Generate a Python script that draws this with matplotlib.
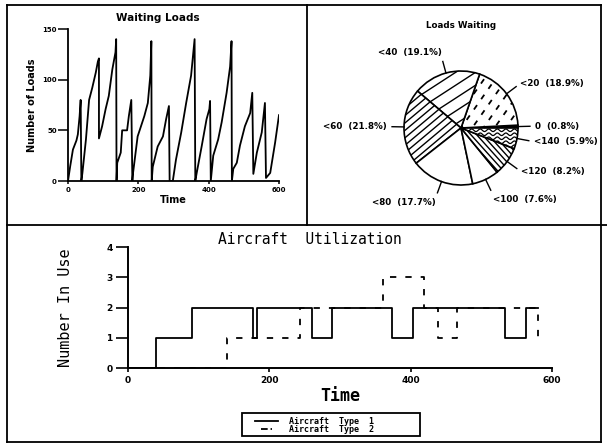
import numpy as np
import matplotlib
matplotlib.use('Agg')
import matplotlib.pyplot as plt
from matplotlib.lines import Line2D
from matplotlib.patches import Rectangle
from matplotlib.collections import LineCollection

W, H = 607, 446

# waiting loads over time
wait_t = [0, 6, 14, 24, 28, 33, 36, 38,
          41, 51, 60, 69, 79, 85, 88, 88,
          97, 107, 116, 126, 135, 137, 138,
          140, 150, 154, 168, 173, 180, 183,
          185, 198, 217, 227, 234, 237, 238,
          241, 255, 270, 279, 287, 289,
          298, 307, 322, 336, 350, 360, 362,
          366, 380, 394, 402, 404, 406,
          413, 427, 437, 451, 461, 465, 466,
          470, 480, 489, 503, 518, 524, 527,
          537, 551, 560, 563,
          575, 589, 600]
wait_n = [0, 14, 31, 40, 46, 64, 80, 0,
          8, 41, 80, 92, 107, 118, 121, 42,
          54, 71, 84, 110, 127, 140, 0,
          18, 28, 50, 50, 64, 80, 0,
          8, 44, 64, 77, 104, 138, 0,
          14, 34, 44, 61, 74, 0,
          0, 21, 48, 77, 104, 140, 0,
          8, 34, 61, 71, 79, 0,
          25, 41, 58, 87, 113, 138, 0,
          12, 18, 35, 54, 67, 87, 7,
          28, 48, 77, 3,
          8, 38, 65]

# pie: loads waiting
pie_cats = ['0', '<20', '<40', '<60', '<80', '<100', '<120', '<140']
pie_pct = [0.8, 18.9, 19.1, 21.8, 17.7, 7.6, 8.2, 5.9]

# aircraft utilization (step changes)
type1_t = [0, 40, 90, 177, 183, 260, 289, 374, 403, 534, 563, 580]
type1_n = [0, 1, 2, 1, 2, 1, 2, 1, 2, 1, 2, 2]
type2_t = [0, 140, 243, 361, 419, 438, 466, 580, 582]
type2_n = [0, 1, 2, 3, 2, 1, 2, 1, 1]
legend_labels = ['Aircraft  Type  1', 'Aircraft  Type  2']


def fx(px):
    return px / W


def fy(py):
    return 1 - py / H


def rect(l, t, r, b):
    return [fx(l), fy(b), fx(r) - fx(l), fy(t) - fy(b)]


plt.rcParams['font.family'] = 'DejaVu Sans'
MONO = 'DejaVu Sans Mono'
fig = plt.figure(figsize=(W / 100, H / 100), dpi=100)

# panel frames
frame = [((7, 5), (601, 5)), ((7, 442), (601, 442)), ((7, 5), (7, 442)),
         ((601, 5), (601, 442)), ((7, 225), (607, 225)), ((307, 5), (307, 225))]
for (x0, y0), (x1, y1) in frame:
    fig.add_artist(Line2D([fx(x0), fx(x1)], [fy(y0), fy(y1)], color='black', lw=1.3))

# ---- waiting loads ----
ax1 = fig.add_axes(rect(68, 29, 279, 181))
ax1.plot(wait_t, wait_n, color='black', lw=1.3)
ax1.set_xlim(0, 600)
ax1.set_ylim(0, 150)
ax1.set_xticks([0, 200, 400, 600])
ax1.set_yticks([0, 50, 100, 150])
for s in ['top', 'right']:
    ax1.spines[s].set_visible(False)
for s in ['left', 'bottom']:
    ax1.spines[s].set_linewidth(1.3)
ax1.tick_params(axis='y', length=7, width=1.1, labelsize=5, pad=1)
ax1.tick_params(axis='x', length=2, width=1.1, labelsize=5, pad=2)
for lab in ax1.get_xticklabels() + ax1.get_yticklabels():
    lab.set_fontweight('bold')
ax1.set_xlabel('Time', fontsize=7, fontweight='bold', labelpad=2)
ax1.set_ylabel('Number of Loads', fontsize=7, fontweight='bold', labelpad=4)
fig.text(fx(158), fy(18), 'Waiting Loads', fontsize=7.5, fontweight='bold',
         ha='center', va='center')

# ---- pie ----
R = 57
cx, cy = 461, 128
axp = fig.add_axes(rect(308, 6, 600, 224))
wedges, _ = axp.pie(pie_pct, startangle=0, counterclock=True, colors=['white'] * 8,
                    wedgeprops=dict(edgecolor='black', linewidth=1.2))
wedges[0].set_facecolor('black')
axp.set_xlim(-(cx - 308) / R, (600 - cx) / R)
axp.set_ylim(-(224 - cy) / R, (cy - 6) / R)
axp.set_aspect('auto')
axp.axis('off')


def hatch(wedge, angle, spacing, **kw):
    a = np.deg2rad(angle)
    d = np.array([np.cos(a), np.sin(a)])
    n = np.array([-np.sin(a), np.cos(a)])
    segs = []
    for k in np.arange(-1.6, 1.6, spacing):
        c = n * k
        segs.append([c - 1.6 * d, c + 1.6 * d])
    lc = LineCollection(segs, colors='black', **kw)
    axp.add_collection(lc)
    lc.set_clip_path(wedge)


hatch(wedges[1], 55, 0.16, linewidths=1.3, linestyles=[(0, (3, 4))])
hatch(wedges[2], 33, 0.19, linewidths=1.0)
hatch(wedges[3], 40, 0.10, linewidths=1.0)
hatch(wedges[6], -48, 0.075, linewidths=1.0)
xs = np.linspace(0, 1.1, 300)
waves = [np.column_stack([xs, y0 + 0.022 * np.sin(2 * np.pi * xs / 0.15)])
         for y0 in np.arange(-0.6, 0.05, 0.07)]
lcw = LineCollection(waves, colors='black', linewidths=0.9)
axp.add_collection(lcw)
lcw.set_clip_path(wedges[7])

cum = np.cumsum([0] + pie_pct)
for i, (cat, p) in enumerate(zip(pie_cats, pie_pct)):
    mid = np.deg2rad((cum[i] + p / 2) * 3.6)
    c, s = np.cos(mid), np.sin(mid)
    axp.plot([c, 1.21 * c], [s, 1.21 * s], color='black', lw=1.0)
    ha = 'left' if c > 0 else 'right'
    va = 'bottom' if s > 0.8 else ('top' if s < -0.8 else 'center')
    axp.text(1.3 * c, 1.3 * s, f'{cat}  ({p:.1f}%)', ha=ha, va=va,
             fontsize=6.3, fontweight='bold')
axp.text(0, (cy - 25) / R, 'Loads Waiting', ha='center', va='center',
         fontsize=6.3, fontweight='bold')

# ---- aircraft utilization ----
ax2 = fig.add_axes(rect(128, 247, 552, 368))
l1, = ax2.plot(type1_t, type1_n, drawstyle='steps-post', color='black', lw=1.3)
l2, = ax2.plot(type2_t, type2_n, drawstyle='steps-post', color='black', lw=1.3,
               linestyle=(0, (3.5, 5)))
ax2.set_xlim(0, 600)
ax2.set_ylim(0, 4)
ax2.set_xticks([0, 200, 400, 600])
ax2.set_yticks([0, 1, 2, 3, 4])
for s in ['top', 'right']:
    ax2.spines[s].set_visible(False)
for s in ['left', 'bottom']:
    ax2.spines[s].set_linewidth(1.4)
ax2.tick_params(axis='y', length=9, width=1.2, labelsize=6.5, pad=2)
ax2.tick_params(axis='x', length=3, width=1.2, labelsize=6.5, pad=3)
for lab in ax2.get_xticklabels() + ax2.get_yticklabels():
    lab.set_fontweight('bold')
ax2.set_xlabel('Time', fontsize=12, fontweight='bold', family=MONO, labelpad=1)
ax2.set_ylabel('Number In Use', fontsize=11, family=MONO, labelpad=24)
fig.text(fx(310), fy(240), 'Aircraft  Utilization', fontsize=10.5, family=MONO,
         ha='center', va='center')

# legend box drawn by hand to get the wide, tight layout
fig.add_artist(Rectangle((fx(242), fy(436)), fx(420) - fx(242), fy(413) - fy(436),
                         transform=fig.transFigure, fill=False, edgecolor='black', lw=1.3))
fig.add_artist(Line2D([fx(255), fx(278)], [fy(421), fy(421)], color='black', lw=1.3))
fig.add_artist(Line2D([fx(261), fx(272)], [fy(429), fy(429)], color='black', lw=1.3,
                      linestyle=l2.get_linestyle()))
for lab, py in zip(legend_labels, [421, 429]):
    fig.text(fx(289), fy(py), lab, fontsize=6, fontweight='bold',
             family=MONO, ha='left', va='center')

fig.savefig('out.png', dpi=100)
